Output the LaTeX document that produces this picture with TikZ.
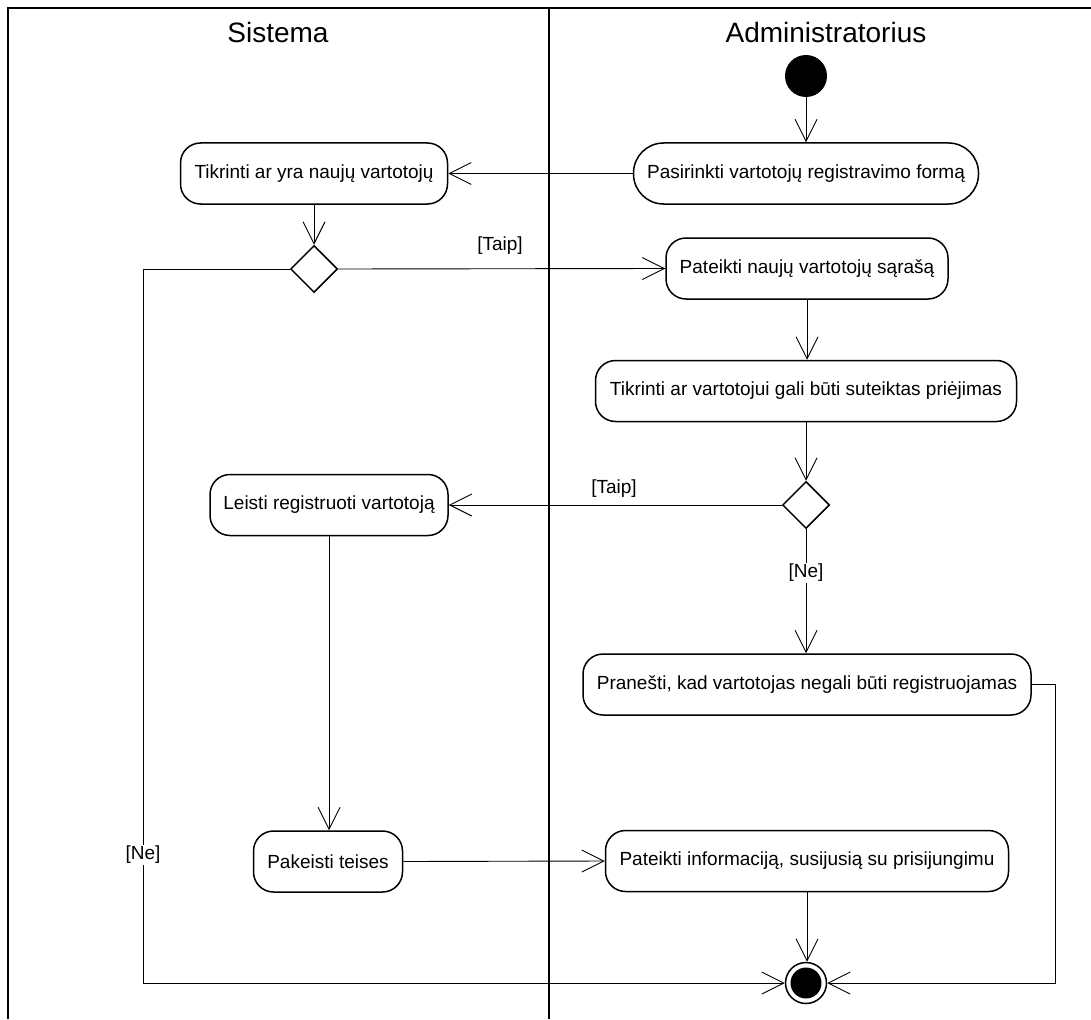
\documentclass[tikz,border=0pt]{standalone}
\usepackage{fontspec}
\setmainfont{Liberation Sans}
\usetikzlibrary{arrows.meta,shapes.geometric}
\newcommand\myBodyFont{\fontsize{19}{22}\selectfont}
\newcommand\myHeadFont{\fontsize{28}{32}\selectfont}
\tikzset{
  act/.style={draw, line width=1.5pt, rounded corners=20pt, minimum height=61pt, inner sep=0pt, font=\myBodyFont},
  dec/.style={draw, line width=1.5pt, diamond, shape aspect=1, minimum width=47pt, minimum height=47pt, inner sep=0pt},
  conn/.style={line width=0.9pt, -{Straight Barb[length=22pt,width=22pt,line width=0.9pt]}},
  plain/.style={line width=0.9pt},
  lbl/.style={font=\myBodyFont, inner sep=1pt},
  lane/.style={line width=1.8pt},
  head/.style={font=\myHeadFont, anchor=base, inner sep=0pt}
}
\begin{document}
\begin{tikzpicture}[x=1pt,y=-1pt]
\useasboundingbox (0,0) rectangle (1091,1019);
% swimlanes
\coordinate (tl) at (8,8);
\coordinate (bl) at (8,1019);
\coordinate (tr) at (1091,8);
\coordinate (dt) at (549,8);
\coordinate (db) at (549,1019);
\draw[lane] (bl) -- (tl) -- (tr);
\draw[lane] (dt) -- (db);
\node[head] (hs) at (278,43) {Sistema};
\node[head] (ha) at (826,43) {Administratorius};
% nodes
\node[circle, fill=black, minimum size=42pt, inner sep=0pt] (ini) at (806,76) {};
\node[act, rounded corners=30pt, minimum width=345pt] (pas) at (806,173.5) {Pasirinkti vartotojų registravimo formą};
\node[act, minimum width=267pt] (tik) at (314,173.5) {Tikrinti ar yra naujų vartotojų};
\node[dec] (d1) at (314,269) {};
\node[act, minimum width=282pt] (pat) at (807,268.5) {Pateikti naujų vartotojų sąrašą};
\node[act, minimum width=421pt] (tv) at (806,391) {Tikrinti ar vartotojui gali būti suteiktas priėjimas};
\node[dec] (d2) at (806,505) {};
\node[act, minimum width=238pt] (le) at (329,505) {Leisti registruoti vartotoją};
\node[act, minimum width=448pt] (pr) at (807,684.5) {Pranešti, kad vartotojas negali būti registruojamas};
\node[act, minimum width=149pt] (pk) at (328,861.5) {Pakeisti teises};
\node[act, minimum width=403pt] (pi) at (807,861) {Pateikti informaciją, susijusią su prisijungimu};
\node[circle, draw, line width=1.5pt, minimum size=41pt, inner sep=0pt,
      path picture={\fill (path picture bounding box.center) circle (15.5pt);}] (fin) at (806,983) {};
% connectors
\coordinate (lc) at (143,983);
\coordinate (rc) at (1055,983);
\draw[conn] (ini) -- (ini |- pas.north);
\draw[conn] (pas.west) -- (tik.east);
\draw[conn] (tik.south) -- (d1.north);
\draw[conn] (d1.east) -- (pat.west);
\draw[conn] (pat.south) -- (pat.south |- tv.north);
\draw[conn] (tv.south) -- (d2.north);
\draw[conn] (d2.west) -- (le.east);
\draw[conn] (le.south) -- (le.south |- pk.north);
\draw[conn] (pk.east) -- (pi.west);
\draw[conn] (pi.south) -- (pi.south |- fin.north);
\draw[conn] (d2.south) -- (d2.south |- pr.north);
\draw[conn] (d1.west) -| (lc) -- (fin.west);
\draw[conn] (pr.east) -| (rc) -- (fin.east);
% labels
\node[lbl] (t1) at (500,246) {[Taip]};
\node[lbl] (t2) at (614,489) {[Taip]};
\node[lbl, fill=white] (n1) at (806,573) {[Ne]};
\node[lbl, fill=white] (n2) at (143,855) {[Ne]};
\end{tikzpicture}
\end{document}
